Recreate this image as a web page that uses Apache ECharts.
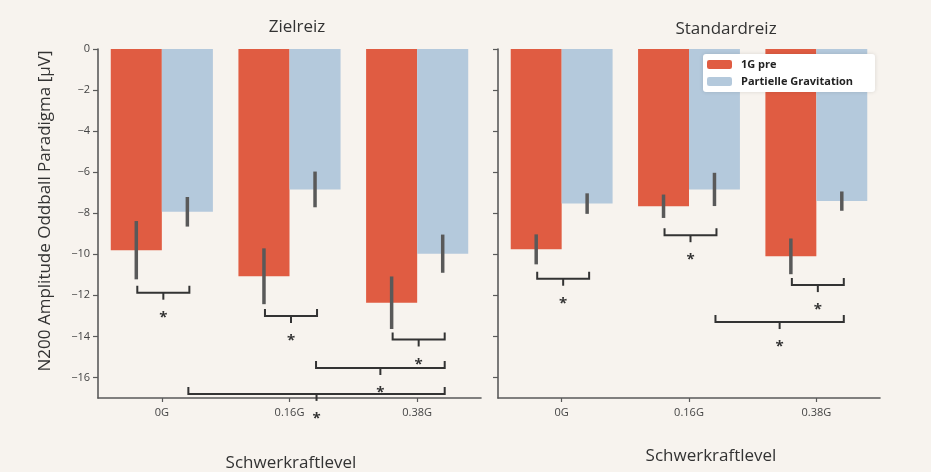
<!DOCTYPE html>
<html>
<head>
<meta charset="utf-8">
<script src="https://cdn.jsdelivr.net/npm/echarts@6/dist/echarts.min.js"></script>
<style>
  html, body { margin: 0; padding: 0; background: #f7f3ee; }
  #chart { width: 931px; height: 472px; }
</style>
</head>
<body>
<div id="chart"></div>
<script>
// Gravity levels and tick values shared by both panels
const levels = ['0G', '0.16G', '0.38G'];
const yTicks = [0, -2, -4, -6, -8, -10, -12, -14, -16];

// Zielreiz (target stimulus): mean N200 amplitude and error half-widths [µV]
const targetPre = [-9.8, -11.07, -12.36];
const targetPreErr = [1.42, 1.36, 1.28];
const targetPartial = [-7.93, -6.84, -9.97];
const targetPartialErr = [0.72, 0.87, 0.93];

// Standardreiz (standard stimulus)
const standardPre = [-9.76, -7.66, -10.1];
const standardPreErr = [0.73, 0.57, 0.87];
const standardPartial = [-7.53, -6.84, -7.41];
const standardPartialErr = [0.5, 0.81, 0.47];

// Significant comparisons: [levelA, barA, levelB, barB, bracket level µV]
// bar 0 = 1G pre, bar 1 = Partielle Gravitation
const targetSig = [
  [0, 0, 0, 1, -11.87],
  [1, 0, 1, 1, -13.0],
  [2, 0, 2, 1, -14.15],
  [1, 1, 2, 1, -15.54],
  [0, 1, 2, 1, -16.8]
];
const standardSig = [
  [0, 0, 0, 1, -11.19],
  [1, 0, 1, 1, -9.07],
  [2, 0, 2, 1, -11.5],
  [1, 1, 2, 1, -13.3]
];

const RED = '#e05c42';
const BLUE = '#b4c9dc';
const INK = '#333333';
const FONT = '"Open Sans", "Noto Sans", sans-serif';

// bar centre offset within a category band (two bars fill 80% of the band)
function barOffset(api, bar) {
  const band = api.size([1, 0])[0];
  return (bar === 0 ? -0.2 : 0.2) * band;
}

function errorSeries(gridIdx, means, errs, bar) {
  return {
    type: 'custom',
    xAxisIndex: gridIdx,
    yAxisIndex: gridIdx,
    z: 5,
    data: means.map((m, i) => [i, m - errs[i], m + errs[i]]),
    renderItem: function (params, api) {
      const c = api.value(0);
      const lo = api.coord([c, api.value(1)]);
      const hi = api.coord([c, api.value(2)]);
      const x = lo[0] + barOffset(api, bar);
      return {
        type: 'line',
        shape: { x1: x, y1: lo[1], x2: x, y2: hi[1] },
        style: { stroke: '#595959', lineWidth: 3.5 }
      };
    }
  };
}

function bracketSeries(gridIdx, sig) {
  return {
    type: 'custom',
    xAxisIndex: gridIdx,
    yAxisIndex: gridIdx,
    z: 6,
    clip: false,
    data: sig,
    renderItem: function (params, api) {
      const a = api.coord([api.value(0), api.value(4)]);
      const b = api.coord([api.value(2), api.value(4)]);
      const x1 = a[0] + barOffset(api, api.value(1)) + 1;
      const x2 = b[0] + barOffset(api, api.value(3)) + 2;
      const y = a[1];
      const xm = (x1 + x2) / 2;
      return {
        type: 'group',
        children: [
          {
            type: 'polyline',
            shape: { points: [[x1, y - 7], [x1, y], [x2, y], [x2, y - 7]] },
            style: { stroke: INK, lineWidth: 2, fill: null }
          },
          {
            type: 'line',
            shape: { x1: xm, y1: y, x2: xm, y2: y + 7 },
            style: { stroke: INK, lineWidth: 2 }
          },
          {
            type: 'text',
            x: xm,
            y: y + 25,
            style: {
              text: '*',
              fill: INK,
              font: 'bold 15px ' + FONT,
              align: 'center',
              verticalAlign: 'middle'
            }
          }
        ]
      };
    }
  };
}

function barSeries(gridIdx, name, values, color) {
  return {
    type: 'bar',
    name: name,
    xAxisIndex: gridIdx,
    yAxisIndex: gridIdx,
    data: values,
    barGap: '0%',
    barCategoryGap: '20%',
    itemStyle: { color: color },
    emphasis: { disabled: true }
  };
}

const lineStyle = { color: '#5a5a5a', width: 1.6 };
const tickStyle = { color: '#5a5a5a', width: 1.2 };

function xAxis(gridIdx) {
  return {
    type: 'category',
    gridIndex: gridIdx,
    position: 'bottom',
    data: levels,
    boundaryGap: true,
    axisLine: { show: true, onZero: false, lineStyle: lineStyle },
    axisTick: { show: true, alignWithLabel: true, length: 4, lineStyle: tickStyle },
    axisLabel: { color: '#444', fontSize: 11, fontFamily: FONT, margin: 9 }
  };
}

function yAxis(gridIdx, showLabels) {
  return {
    type: 'value',
    gridIndex: gridIdx,
    min: -17,
    max: 0,
    splitLine: { show: false },
    axisLine: { show: true, onZero: false, lineStyle: lineStyle },
    axisTick: { show: true, customValues: yTicks, length: 5, lineStyle: tickStyle },
    axisLabel: {
      show: showLabels,
      customValues: yTicks,
      color: '#444',
      fontSize: 11,
      fontFamily: FONT,
      margin: 8,
      formatter: v => (v < 0 ? '\u2212' + Math.abs(v) : String(v))
    }
  };
}

const chart = echarts.init(document.getElementById('chart'), null, { renderer: 'canvas' });

chart.setOption({
  backgroundColor: '#f7f3ee',
  animation: false,
  textStyle: { fontFamily: FONT },
  title: [
    { text: 'Zielreiz', left: 292, top: 14, textAlign: 'center',
      textStyle: { fontSize: 17, fontWeight: 'normal', color: '#333', fontFamily: FONT } },
    { text: 'Standardreiz', left: 721, top: 16, textAlign: 'center',
      textStyle: { fontSize: 17, fontWeight: 'normal', color: '#333', fontFamily: FONT } }
  ],
  legend: {
    data: ['1G pre', 'Partielle Gravitation'],
    orient: 'vertical',
    left: 703,
    top: 54,
    itemWidth: 25,
    itemHeight: 9,
    itemGap: 6,
    padding: [5, 22, 5, 4],
    backgroundColor: '#ffffff',
    borderRadius: 3,
    shadowBlur: 4,
    shadowColor: 'rgba(0,0,0,0.12)',
    selectedMode: false,
    textStyle: { fontSize: 11, fontWeight: 'bold', color: '#222', fontFamily: FONT, padding: [0, 0, 0, 4] }
  },
  grid: [
    { left: 98, top: 49, width: 383, height: 349 },
    { left: 498, top: 49, width: 382, height: 349 }
  ],
  xAxis: [xAxis(0), xAxis(1)],
  yAxis: [yAxis(0, true), yAxis(1, false)],
  graphic: [
    {
      type: 'text',
      x: 45,
      y: 211,
      rotation: Math.PI / 2,
      style: {
        text: 'N200 Amplitude Oddball Paradigma [\u00b5V]',
        font: '17px ' + FONT,
        fill: '#333',
        align: 'center',
        verticalAlign: 'middle'
      }
    },
    {
      type: 'text', x: 291, y: 463,
      style: { text: 'Schwerkraftlevel', font: '17px ' + FONT, fill: '#333', align: 'center', verticalAlign: 'middle' }
    },
    {
      type: 'text', x: 711, y: 456,
      style: { text: 'Schwerkraftlevel', font: '17px ' + FONT, fill: '#333', align: 'center', verticalAlign: 'middle' }
    }
  ],
  series: [
    barSeries(0, '1G pre', targetPre, RED),
    barSeries(0, 'Partielle Gravitation', targetPartial, BLUE),
    barSeries(1, '1G pre', standardPre, RED),
    barSeries(1, 'Partielle Gravitation', standardPartial, BLUE),
    errorSeries(0, targetPre, targetPreErr, 0),
    errorSeries(0, targetPartial, targetPartialErr, 1),
    errorSeries(1, standardPre, standardPreErr, 0),
    errorSeries(1, standardPartial, standardPartialErr, 1),
    bracketSeries(0, targetSig),
    bracketSeries(1, standardSig)
  ]
});
</script>
</body>
</html>
